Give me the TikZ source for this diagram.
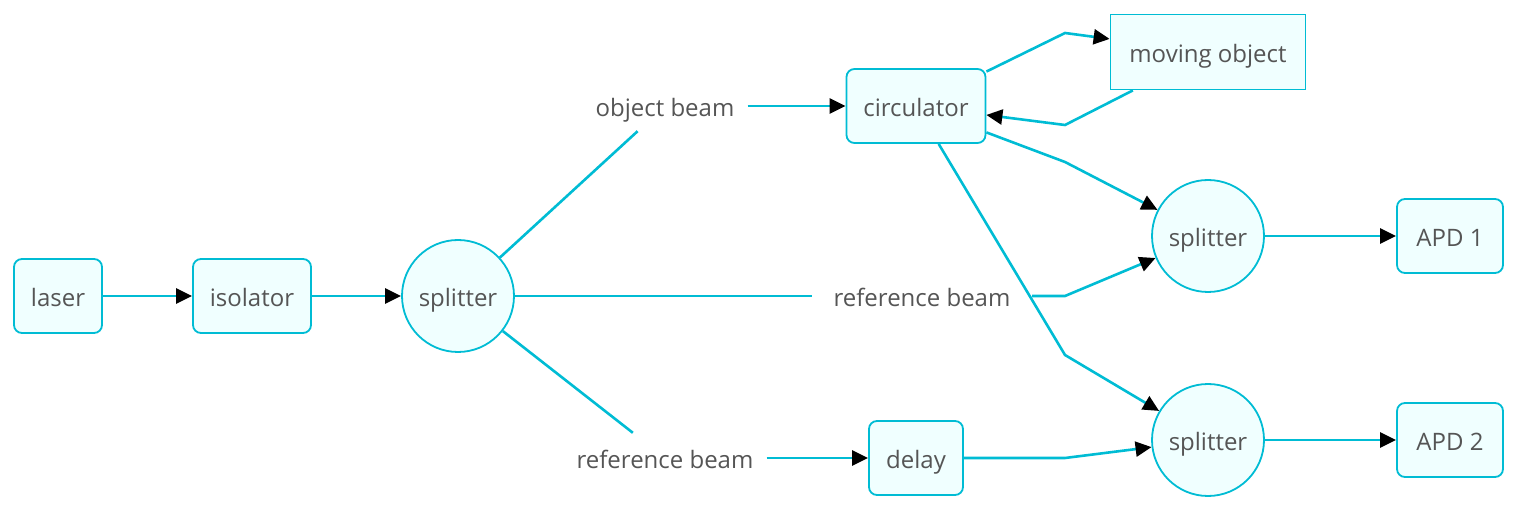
\documentclass[tikz,border=0pt]{standalone}
\usepackage{fontspec}
\setmainfont{Open Sans}
\usetikzlibrary{arrows.meta}
\definecolor{edge}{RGB}{0,188,212}
\definecolor{boxfill}{RGB}{240,255,255}
\definecolor{txt}{RGB}{85,85,85}
\begin{document}
\begin{tikzpicture}[x=1pt,y=-1pt,
  font=\fontsize{24}{29}\selectfont, text=txt,
  every node/.style={text height=22.5pt,text depth=1pt},
  box/.style={draw=edge,fill=boxfill,line width=1.8pt,rounded corners=8pt,inner sep=0pt,minimum height=74pt},
  sharpbox/.style={box,rounded corners=0pt},
  split/.style={circle,draw=edge,fill=boxfill,line width=1.8pt,minimum size=112pt,inner sep=0pt},
  beamlabel/.style={inner xsep=13pt,inner ysep=0pt,minimum height=50pt},
  link/.style={draw=edge,line width=2.6pt,-{Triangle[length=16pt,width=15pt,color=black]}},
  plain/.style={draw=edge,line width=2.6pt}]
\useasboundingbox (0,0) rectangle (1518,510);

% components
\node[box,minimum width=88pt] (laser) at (58,296) {laser};
\node[box,minimum width=118pt] (iso) at (252,296) {isolator};
\node[split] (s1) at (458,296) {splitter};
\node[box,minimum width=139pt] (circ) at (916,106) {circulator};
\node[sharpbox,minimum width=195pt,minimum height=75pt] (mo) at (1208,52) {moving object};
\node[box,minimum width=94pt] (delay) at (916,458) {delay};
\node[split] (s2) at (1208,236) {splitter};
\node[split] (s3) at (1208,440) {splitter};
\node[box,minimum width=106pt] (apd1) at (1450,236) {APD 1};
\node[box,minimum width=106pt] (apd2) at (1450,440) {APD 2};

% beam labels
\node[beamlabel] (ob) at (665,106) {object beam};
\node[beamlabel,minimum width=220pt] (rb) at (922,296) {reference beam};
\node[beamlabel] (rb2) at (665,458) {reference beam};

% bend points
\coordinate (b1) at (1065,33);
\coordinate (b2) at (1065,125);
\coordinate (b3) at (1065,162);
\coordinate (b4) at (1065,355);
\coordinate (b5) at (1065,296);
\coordinate (b6) at (1065,458);

% beam paths
\draw[link] (laser) -- (iso);
\draw[link] (iso) -- (s1);
\draw[plain] (s1) -- (ob);
\draw[link] (ob) -- (circ);
\draw[plain] (s1) -- (rb);
\draw[plain] (s1) -- (rb2);
\draw[link] (rb2) -- (delay);
\draw[link] (circ) -- (b1) -- (mo);
\draw[link] (mo) -- (b2) -- (circ);
\draw[link] (circ) -- (b3) -- (s2);
\draw[link] (circ) -- (b4) -- (s3);
\draw[link] (rb) -- (b5) -- (s2);
\draw[link] (delay) -- (b6) -- (s3);
\draw[link] (s2) -- (apd1);
\draw[link] (s3) -- (apd2);
\end{tikzpicture}
\end{document}
